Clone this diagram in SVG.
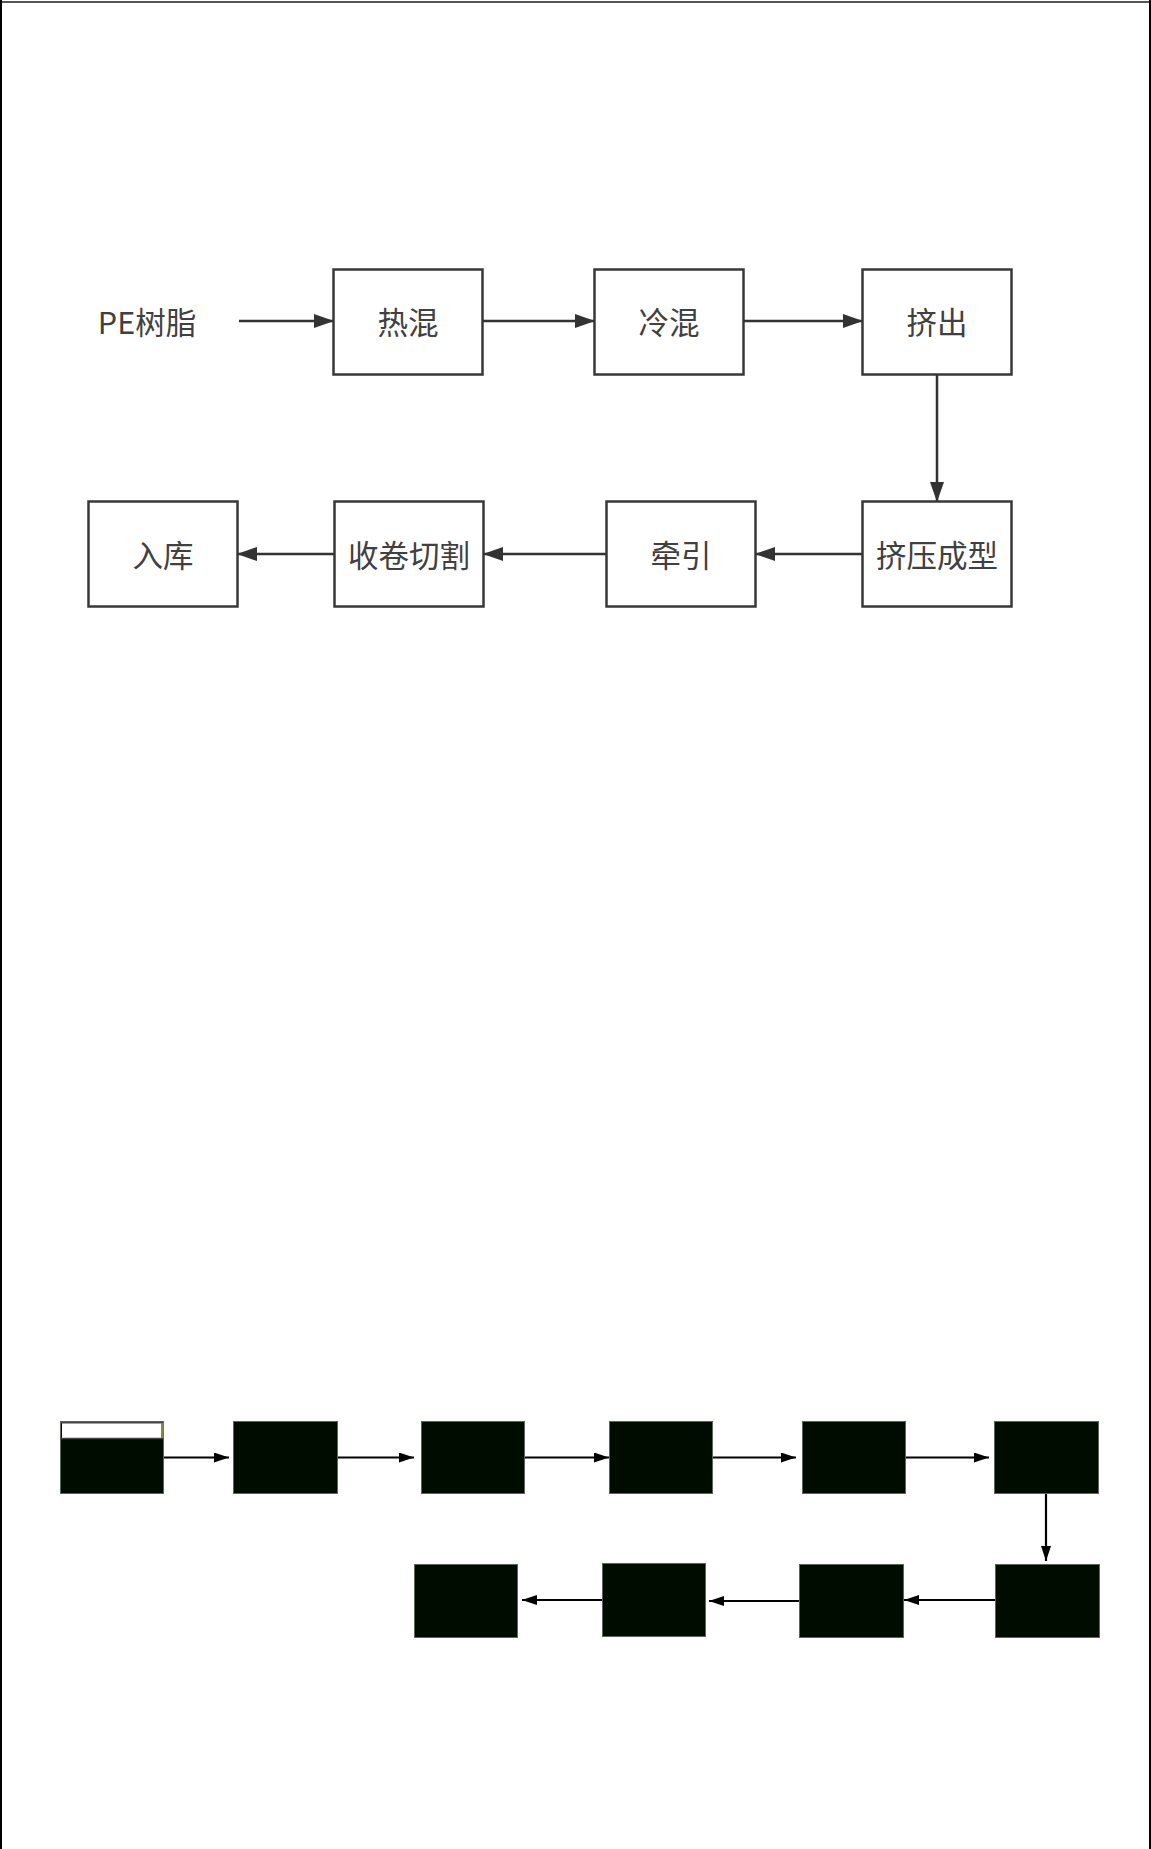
<svg xmlns="http://www.w3.org/2000/svg" width="1151" height="1849" viewBox="0 0 1151 1849">
  <style>
    .box { fill: #ffffff; stroke: #383838; stroke-width: 2.5; }
    .lbl { font-family: "Noto Sans CJK SC", "Noto Sans", sans-serif; font-size: 30.5px; fill: #404040; text-anchor: middle; dominant-baseline: central; }
    .conn { stroke: #333333; stroke-width: 2.5; fill: none; }
    .dbox { fill: #010c01; stroke: #5c665c; stroke-width: 1; }
    .dconn { stroke: #000000; stroke-width: 2.2; fill: none; }
  </style>
  <defs>
    <marker id="ah" markerUnits="userSpaceOnUse" markerWidth="20" markerHeight="14" refX="19" refY="7" orient="auto">
      <path d="M0,0 L20,7 L0,14 Z" fill="#333333"/>
    </marker>
    <marker id="ahd" markerUnits="userSpaceOnUse" markerWidth="15" markerHeight="10" refX="15" refY="5" orient="auto">
      <path d="M0,0 L15,5 L0,10 Z" fill="#000000"/>
    </marker>
  </defs>
  <rect x="0" y="0" width="1151" height="1849" fill="#ffffff"/>
  <g id="frame">
    <line x1="0" y1="2" x2="1151" y2="2" stroke="#555555" stroke-width="2"/>
    <line x1="1" y1="0" x2="1" y2="1849" stroke="#000000" stroke-width="2"/>
    <line x1="1150" y1="0" x2="1150" y2="1849" stroke="#000000" stroke-width="2"/>
  </g>

  <!-- Top process flow -->
  <g id="n-pe"><text class="lbl" x="147" y="321">PE树脂</text></g>
  <g id="n-rehun"><rect class="box" x="333.5" y="269.5" width="149" height="105"/><text class="lbl" x="408" y="321">热混</text></g>
  <g id="n-lenghun"><rect class="box" x="594.5" y="269.5" width="149" height="105"/><text class="lbl" x="669" y="321">冷混</text></g>
  <g id="n-jichu"><rect class="box" x="862.5" y="269.5" width="149" height="105"/><text class="lbl" x="937" y="321">挤出</text></g>
  <g id="n-jiya"><rect class="box" x="862.5" y="501.5" width="149" height="105"/><text class="lbl" x="937" y="554">挤压成型</text></g>
  <g id="n-qianyin"><rect class="box" x="606.5" y="501.5" width="149" height="105"/><text class="lbl" x="681" y="554">牵引</text></g>
  <g id="n-shoujuan"><rect class="box" x="334.5" y="501.5" width="149" height="105"/><text class="lbl" x="409" y="554">收卷切割</text></g>
  <g id="n-ruku"><rect class="box" x="88.5" y="501.5" width="149" height="105"/><text class="lbl" x="163" y="554">入库</text></g>

  <g id="connectors-top">
    <line class="conn" x1="239" y1="321" x2="333" y2="321" marker-end="url(#ah)"/>
    <line class="conn" x1="483" y1="321" x2="594" y2="321" marker-end="url(#ah)"/>
    <line class="conn" x1="744" y1="321" x2="862" y2="321" marker-end="url(#ah)"/>
    <line class="conn" x1="937" y1="375" x2="937" y2="501" marker-end="url(#ah)"/>
    <line class="conn" x1="862" y1="554" x2="756" y2="554" marker-end="url(#ah)"/>
    <line class="conn" x1="606" y1="554" x2="484" y2="554" marker-end="url(#ah)"/>
    <line class="conn" x1="334" y1="554" x2="238" y2="554" marker-end="url(#ah)"/>
  </g>

  <!-- Bottom dark flow -->
  <g id="d1">
    <rect class="dbox" x="60.5" y="1421.5" width="103" height="72"/>
    <rect x="62" y="1423" width="99" height="15" fill="#ffffff"/>
    <line x1="60.5" y1="1438.5" x2="163.5" y2="1438.5" stroke="#444444" stroke-width="1.5"/>
    <rect x="61" y="1422" width="102" height="1.5" fill="#444444"/>
    <rect x="161" y="1423" width="2.5" height="15" fill="#8a8a3a"/>
  </g>
  <g id="d2"><rect class="dbox" x="233.5" y="1421.5" width="104" height="72"/></g>
  <g id="d3"><rect class="dbox" x="421.5" y="1421.5" width="103" height="72"/></g>
  <g id="d4"><rect class="dbox" x="609.5" y="1421.5" width="103" height="72"/></g>
  <g id="d5"><rect class="dbox" x="802.5" y="1421.5" width="103" height="72"/></g>
  <g id="d6"><rect class="dbox" x="994.5" y="1421.5" width="104" height="72"/></g>
  <g id="d7"><rect class="dbox" x="995.5" y="1564.5" width="104" height="73"/></g>
  <g id="d8"><rect class="dbox" x="799.5" y="1564.5" width="104" height="73"/></g>
  <g id="d9"><rect class="dbox" x="602.5" y="1563.5" width="103" height="73"/></g>
  <g id="d10"><rect class="dbox" x="414.5" y="1564.5" width="103" height="73"/></g>

  <g id="connectors-bottom">
    <line class="dconn" x1="164" y1="1457.5" x2="229" y2="1457.5" marker-end="url(#ahd)"/>
    <line class="dconn" x1="338" y1="1457.5" x2="414" y2="1457.5" marker-end="url(#ahd)"/>
    <line class="dconn" x1="525" y1="1457.5" x2="609" y2="1457.5" marker-end="url(#ahd)"/>
    <line class="dconn" x1="713" y1="1457.5" x2="796" y2="1457.5" marker-end="url(#ahd)"/>
    <line class="dconn" x1="906" y1="1457.5" x2="989" y2="1457.5" marker-end="url(#ahd)"/>
    <line class="dconn" x1="1046" y1="1494" x2="1046" y2="1561" marker-end="url(#ahd)"/>
    <line class="dconn" x1="995" y1="1600" x2="904" y2="1600" marker-end="url(#ahd)"/>
    <line class="dconn" x1="799" y1="1601" x2="709" y2="1601" marker-end="url(#ahd)"/>
    <line class="dconn" x1="602" y1="1600" x2="522" y2="1600" marker-end="url(#ahd)"/>
  </g>
</svg>
